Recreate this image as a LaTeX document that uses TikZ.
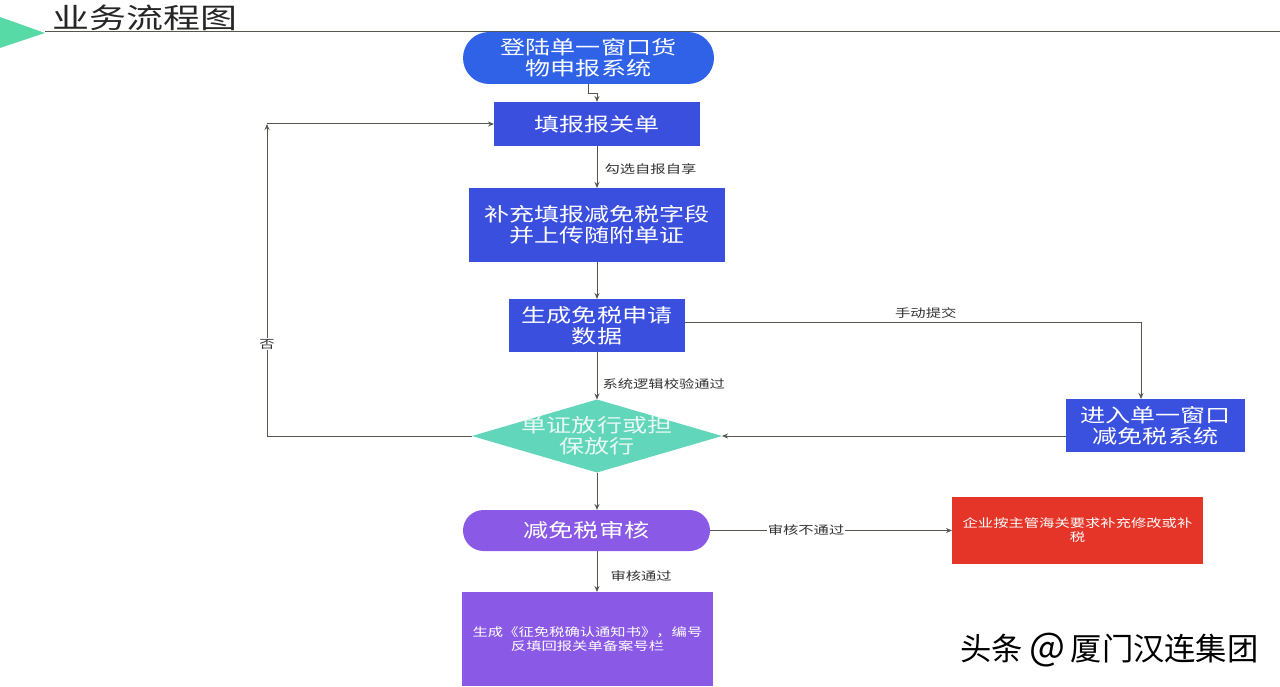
\documentclass[tikz,border=0pt]{standalone}
\usepackage{fontspec}
\setmainfont[FakeStretch=1.32]{Noto Sans CJK SC}
\newfontfamily\wmfont{Noto Sans CJK SC}
\usetikzlibrary{shapes.geometric,shapes.misc,arrows.meta}
\definecolor{startblue}{HTML}{2F62E6}
\definecolor{boxblue}{HTML}{3B4FDF}
\definecolor{gatemint}{HTML}{62D6BA}
\definecolor{auditpurple}{HTML}{8A5AE6}
\definecolor{rejectred}{HTML}{E53528}
\definecolor{linegrey}{HTML}{55584F}
\tikzset{
  bigbox/.style={rectangle, fill=boxblue, inner sep=0pt, outer sep=0pt, text=white, align=center, font=\fontsize{19}{21}\selectfont},
  smallbox/.style={rectangle, inner sep=0pt, outer sep=0pt, text=white, align=center, font=\fontsize{11.6}{14}\selectfont},
  pill/.style={rounded rectangle, inner sep=0pt, outer sep=0pt, text=white, align=center, font=\fontsize{19}{21}\selectfont},
  flow/.style={draw=linegrey, line width=1pt, -{Stealth[length=6pt,width=5pt]}},
  flowlabel/.style={inner sep=1pt, text=black!80, font=\fontsize{11.6}{13}\selectfont},
}
\begin{document}
\begin{tikzpicture}[x=1pt, y=-1pt]
      \useasboundingbox (0, 0) rectangle (1280, 687);

      % header
      \fill[fill=gatemint!90!green] (0, 17) -- (45, 33) -- (0, 48) -- cycle;
      \coordinate (headleft) at (45, 32);
      \coordinate (headright) at (1280, 32);
      \draw[draw=linegrey, line width=1pt] (headleft) -- (headright);
      \node[anchor=west, inner sep=0pt, text=black!85, font=\fontsize{28}{32}\selectfont] (title) at (52, 18) {业务流程图};

      % main column
      \node[pill, fill=startblue, minimum width=251pt, minimum height=52pt] (start) at (588.5, 58) {登陆单一窗口货\\物申报系统};
      \node[bigbox, minimum width=206pt, minimum height=44pt] (report) at (597, 124) {填报报关单};
      \node[bigbox, minimum width=256pt, minimum height=74pt] (extra) at (597, 225) {补充填报减免税字段\\并上传随附单证};
      \node[bigbox, minimum width=176pt, minimum height=53pt] (apply) at (597, 325.5) {生成免税申请\\数据};
      \node[diamond, fill=gatemint, inner sep=0pt, outer sep=0pt, minimum width=250pt, minimum height=73pt] (gate) at (597, 436) {};
      \node[inner sep=0pt, text=white!85!gatemint, align=center, font=\fontsize{19}{21}\selectfont] (gatetext) at (gate.center) {单证放行或担\\保放行};
      \node[pill, fill=auditpurple, minimum width=247pt, minimum height=41pt] (audit) at (586.5, 530.5) {减免税审核};
      \node[smallbox, fill=auditpurple, minimum width=251pt, minimum height=94pt] (result) at (587.5, 639) {生成《征免税确认通知书》，编号\\反填回报关单备案号栏};

      % side boxes
      \node[bigbox, fill=boxblue!90!startblue, minimum width=179pt, minimum height=53pt] (system) at (1155.5, 425.5) {进入单一窗口\\减免税系统};
      \node[smallbox, fill=rejectred, minimum width=251pt, minimum height=67pt] (reject) at (1077.5, 530.5) {企业按主管海关要求补充修改或补\\税};

      \coordinate (corner) at (267, 124);

      \draw[flow] (start.south) -- ++(0, 10) -| (report.north);
      \draw[flow] (report.south) -- (extra.north) node[flowlabel, midway, right, xshift=6pt, yshift=-2pt] {勾选自报自享};
      \draw[flow] (extra.south) -- (apply.north);
      \draw[flow] (apply.south) -- (gate.north) node[flowlabel, midway, right, xshift=4pt, yshift=-8pt] {系统逻辑校验通过};
      \draw[flow] (gate.south) -- (gate.south |- audit.north);
      \draw[flow] (audit.south -| gate.south) -- (gate.south |- result.north) node[flowlabel, midway, right, xshift=12pt, yshift=-5pt] {审核通过};

      \draw[flow] (gate.west) -| (corner) node[flowlabel, pos=0.647, fill=white] {否};
      \draw[flow] (corner) -- (report.west);
      \draw[flow] (apply.east |- 0, 322) -| (system.north -| 1141, 0) node[flowlabel, pos=0.264, above, yshift=2pt] {手动提交};
      \draw[flow] (system.west |- gate.east) -- (gate.east);
      \draw[flow] (audit.east) -- (reject.west) node[flowlabel, pos=0.397, fill=white] {审核不通过};

      % watermark
      \node[anchor=west, inner sep=0pt, text=black, font=\wmfont\fontsize{31.3}{35}\selectfont] (mark) at (960, 650) {头条 {\fontsize{38}{35}\selectfont @}\hspace{5pt}厦门汉连集团};
\end{tikzpicture}
\end{document}
